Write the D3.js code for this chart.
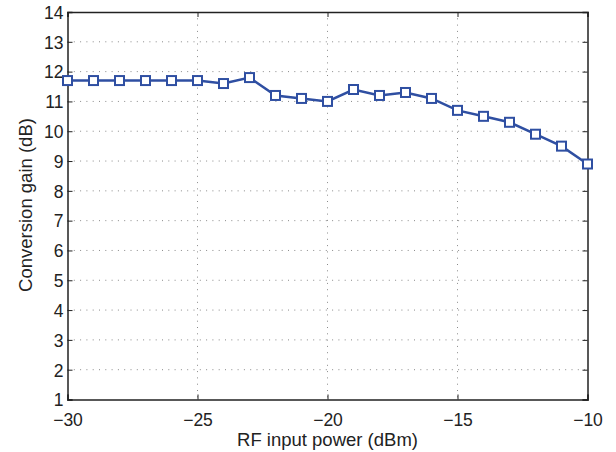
<!DOCTYPE html>
<html><head><meta charset="utf-8">
<script src="https://cdn.jsdelivr.net/npm/d3@7"></script>
<style>body{margin:0;background:#fff}svg{display:block}text{font-family:"Liberation Sans",Arial,sans-serif}</style>
</head><body>
<svg id="c" width="616" height="452"></svg>
<script>
const rfPower = [-30,-29,-28,-27,-26,-25,-24,-23,-22,-21,-20,-19,-18,-17,-16,-15,-14,-13,-12,-11,-10];
const gain = [11.7,11.7,11.7,11.7,11.7,11.7,11.6,11.8,11.2,11.1,11.0,11.4,11.2,11.3,11.1,10.7,10.5,10.3,9.9,9.5,8.9];
const xTicks = [-30,-25,-20,-15,-10];
const yTicks = [1,2,3,4,5,6,7,8,9,10,11,12,13,14];

const L=67.5,R=587.5,T=12,B=399.5;
const svg=d3.select("#c");
const x=d3.scaleLinear().domain([-30,-10]).range([L,R]);
const y=d3.scaleLinear().domain([1,14]).range([B,T]);
const fmt=d=>String(d).replace("-","\u2212");
const FS=18.5, TFS=17.5;

// grid
const g=svg.append("g");
g.selectAll(".gx").data(xTicks.slice(1,-1)).join("line")
 .attr("x1",d=>x(d)).attr("x2",d=>x(d)).attr("y1",T).attr("y2",B)
 .attr("stroke","#8a8a8a").attr("stroke-width",1).attr("stroke-dasharray","1,5.3");
g.selectAll(".gy").data(yTicks.slice(1,-1)).join("line")
 .attr("y1",d=>y(d)).attr("y2",d=>y(d)).attr("x1",L).attr("x2",R)
 .attr("stroke","#8a8a8a").attr("stroke-width",1).attr("stroke-dasharray","1,5.3");

// axes with inward ticks
const ax=svg.append("g");
ax.append("g").attr("transform",`translate(0,${B})`).call(d3.axisBottom(x).tickValues(xTicks).tickSize(-5).tickPadding(14).tickFormat(fmt));
ax.append("g").attr("transform",`translate(0,${T})`).call(d3.axisTop(x).tickValues(xTicks).tickSize(-5).tickFormat(""));
ax.append("g").attr("class","yl").attr("transform",`translate(${L},0)`).call(d3.axisLeft(y).tickValues(yTicks).tickSize(-5).tickPadding(4).tickFormat(fmt));
ax.append("g").attr("transform",`translate(${R},0)`).call(d3.axisRight(y).tickValues(yTicks).tickSize(-5).tickFormat(""));
ax.selectAll(".domain").attr("stroke","#222").attr("stroke-width",1.5);
ax.selectAll(".tick line").attr("stroke","#222");
ax.selectAll(".tick text").attr("font-size",TFS).attr("fill","#222").attr("font-family","Liberation Sans, Arial, sans-serif");
ax.select(".yl").selectAll(".tick text").attr("dy","0.36em");

// line
const col="#2f4fa2";
svg.append("path").datum(rfPower.map((p,i)=>[p,gain[i]]))
 .attr("d",d3.line().x(d=>x(d[0])).y(d=>y(d[1])))
 .attr("fill","none").attr("stroke",col).attr("stroke-width",2.5);
svg.selectAll(".m").data(rfPower.map((p,i)=>[p,gain[i]])).join("rect")
 .attr("x",d=>x(d[0])-4.5).attr("y",d=>y(d[1])-4.5).attr("width",9).attr("height",9)
 .attr("fill","#fff").attr("stroke",col).attr("stroke-width",2);

svg.append("text").attr("x",(L+R)/2).attr("y",446).attr("text-anchor","middle")
 .attr("font-size",FS).attr("fill","#222").text("RF input power (dBm)");
svg.append("text").attr("transform",`translate(31.5,205) rotate(-90)`).attr("text-anchor","middle")
 .attr("font-size",FS).attr("fill","#222").text("Conversion gain (dB)");
</script>
</body></html>
